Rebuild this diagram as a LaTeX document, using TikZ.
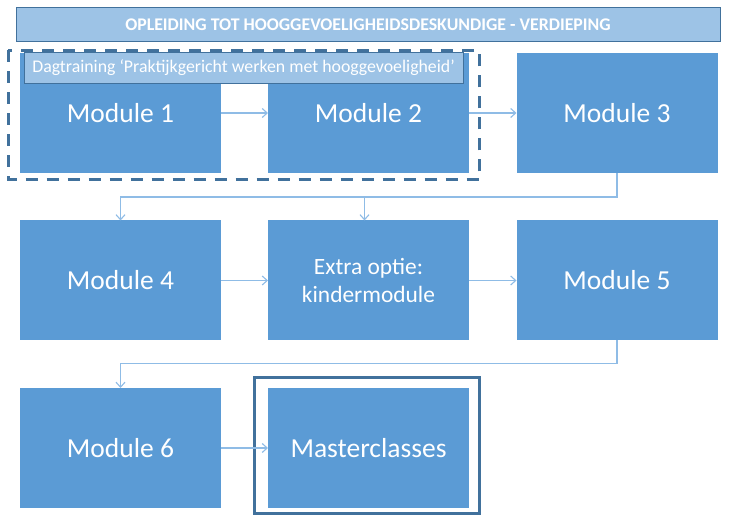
\documentclass[tikz,border=0pt]{standalone}
\usepackage{fontspec}
\setmainfont{Carlito}
\usetikzlibrary{arrows.meta}
\definecolor{modfill}{HTML}{5B9BD5}
\definecolor{lightfill}{HTML}{9DC3E6}
\definecolor{darkline}{HTML}{41719C}
\definecolor{connline}{HTML}{8FBCE6}
\tikzset{
  modbox/.style={rectangle, fill=modfill, draw=none, inner sep=0pt, outer sep=0pt,
    minimum width=201pt, minimum height=120pt, text=white, font=\fontsize{27.5}{30}\selectfont, align=center},
  extrabox/.style={modbox, font=\fontsize{23.4}{28}\selectfont},
  lightbar/.style={rectangle, fill=lightfill, draw=darkline, line width=1pt, inner sep=0pt, outer sep=0pt, text=white},
  conn/.style={draw=connline, line width=1.4pt, -{Straight Barb[length=5pt,width=9pt,line width=1.1pt]}},
  dashframe/.style={draw=darkline, line width=3pt, dash pattern=on 12pt off 9pt},
  solidframe/.style={rectangle, draw=darkline, line width=3pt, inner sep=0pt, outer sep=0pt, fill=none}
}
\begin{document}
\begin{tikzpicture}[x=1pt,y=-1pt]
\useasboundingbox (0,0) rectangle (731,521);
% title
\node[lightbar, minimum width=704pt, minimum height=34pt, font=\fontsize{17.8}{20}\selectfont\bfseries] (title) at (368,24.5) {OPLEIDING TOT HOOGGEVOELIGHEIDSDESKUNDIGE - VERDIEPING};
% row 1
\node[modbox] (m1) at (120.5,113) {Module 1};
\node[modbox] (m2) at (368.5,113) {Module 2};
\node[modbox] (m3) at (617,113) {Module 3};
% row 2
\node[modbox] (m4) at (120.5,280.5) {Module 4};
\node[extrabox] (ex) at (368.5,280.5) {Extra optie:\\kindermodule};
\node[modbox] (m5) at (617,280.5) {Module 5};
% row 3
\node[modbox] (m6) at (120.5,448) {Module 6};
\node[modbox] (mc) at (368.5,448) {Masterclasses};
\node[solidframe, minimum width=225.5pt, minimum height=136pt] (mcframe) at (366.75,445.5) {};
% dagtraining label
\node[lightbar, minimum width=439pt, minimum height=31pt, font=\fontsize{17.8}{20}\selectfont] (dag) at (243.5,67.8) {Dagtraining ‘Praktijkgericht werken met hooggevoeligheid’};
% connectors
\coordinate (r1) at (617,197);
\coordinate (r2) at (617,363.5);
\draw[conn] (m1.east) -- (m2.west);
\draw[conn] (m2.east) -- (m3.west);
\draw[conn] (m3.south) -- (r1) -| (m4.north);
\draw[conn] ([xshift=-4pt]ex.north |- r1) -- ([xshift=-4pt]ex.north);
\draw[conn] (m4.east) -- (ex.west);
\draw[conn] (ex.east) -- (m5.west);
\draw[conn] (m5.south) -- (r2) -| (m6.north);
\draw[conn] (m6.east) -- (mc.west);
% dashed frame
\draw[dashframe] (8,50.5) rectangle (479,180);
\end{tikzpicture}
\end{document}
